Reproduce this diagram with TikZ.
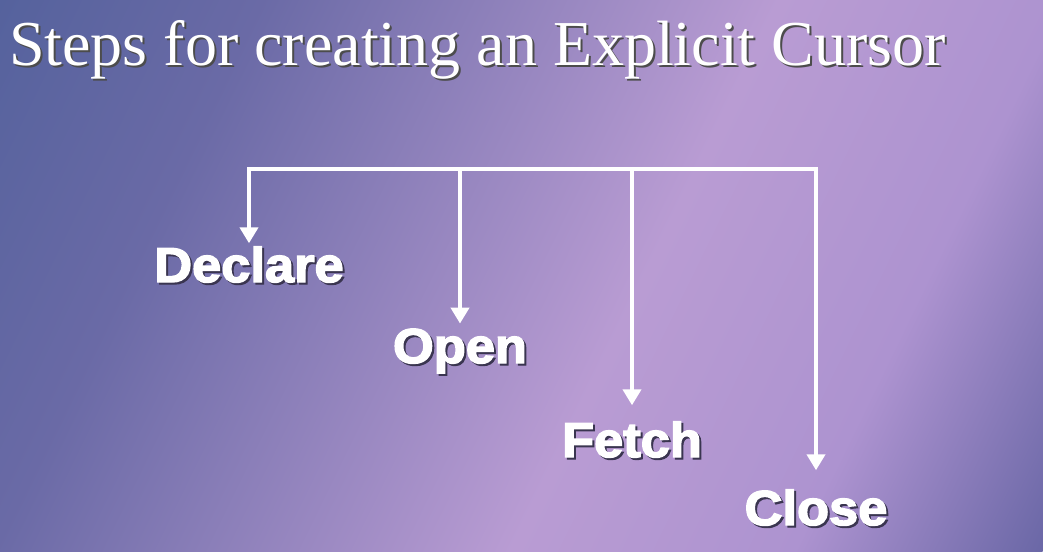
\documentclass[tikz,border=0pt]{standalone}
\usepackage{fontspec}
\setmainfont{Liberation Serif}
\newfontfamily\stepfont{Liberation Sans}[FakeStretch=1.07,FakeBold=3]
\usetikzlibrary{arrows.meta}

\definecolor{bgdark}{HTML}{55629D}
\definecolor{bgmid}{HTML}{6A6AA6}
\definecolor{bglight}{HTML}{B99CD3}
\definecolor{bgpale}{HTML}{AD93D0}
\definecolor{bgedge}{HTML}{6A67A6}
\definecolor{shadowgray}{HTML}{3A3550}

\pgfdeclarehorizontalshading{slidebg}{100bp}{color(0bp)=(bgdark); color(25bp)=(bgdark);
  color(35bp)=(bgmid); color(54.7bp)=(bglight); color(65.5bp)=(bgpale);
  color(75bp)=(bgedge); color(100bp)=(bgedge)}

% white text with a dark copy behind it
\newcommand{\shadowed}[2][shadowgray]{\rlap{\kern2pt\raisebox{-2pt}{\textcolor{#1}{#2}}}#2}

\tikzset{
  flow/.style={draw=white, line width=4.5pt, -{Triangle[width=18pt,length=16pt]}},
  titletext/.style={anchor=base west, inner sep=0pt, text=white,
    font=\fontsize{64}{72}\selectfont},
  steplabel/.style={anchor=base, inner sep=0pt, text=white,
    font=\stepfont\bfseries\fontsize{49}{55}\selectfont},
}

\begin{document}
\begin{tikzpicture}[x=1pt,y=-1pt]
  \useasboundingbox (0,0) rectangle (1043,551);

  % background
  \begin{scope}
    \clip (0,0) rectangle (1043,551);
    \begin{scope}[transform canvas={rotate around={-26:(521.5,275.5)}}]
      \shade[shading=slidebg] (-68,-204.5) rectangle (1111,755.5);
    \end{scope}
  \end{scope}

  \node[titletext] (title) at (9,65) {\shadowed[black!70]{Steps for creating an Explicit Cursor}};

  \node[steplabel] (declare) at (249,282) {\shadowed{Declare}};
  \node[steplabel] (open) at (460,363) {\shadowed{Open}};
  \node[steplabel] (fetch) at (632,457) {\shadowed{Fetch}};
  \node[steplabel] (close) at (816,525) {\shadowed{Close}};

  \coordinate (bus) at (530,169);

  \draw[flow, shorten >=3pt] (bus) -| (declare.north);
  \draw[flow, shorten >=19pt] (bus) -| (close.north);
  \draw[flow, shorten >=5pt] (open.north |- bus) -- (open.north);
  \draw[flow, shorten >=16pt] (fetch.north |- bus) -- (fetch.north);
\end{tikzpicture}
\end{document}
